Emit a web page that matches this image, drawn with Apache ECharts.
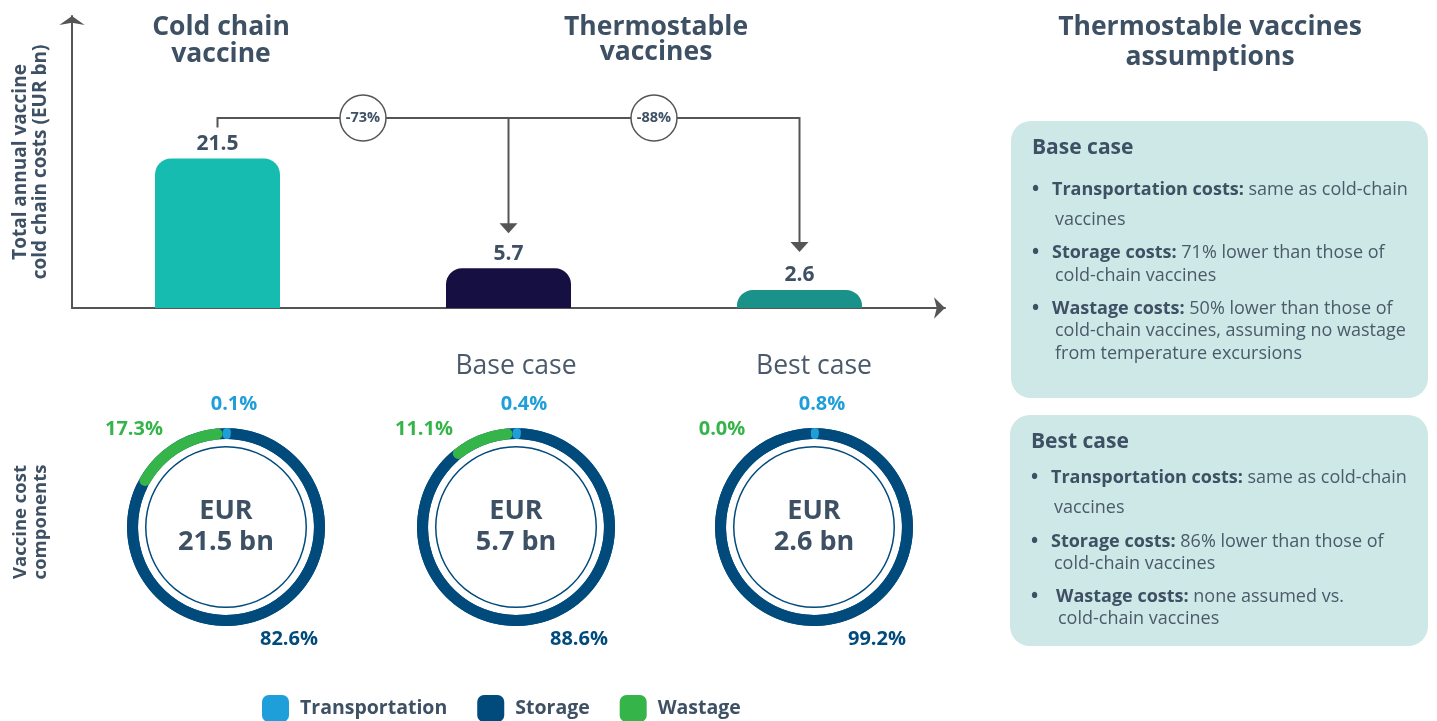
<!DOCTYPE html>
<html>
<head>
<meta charset="utf-8">
<script src="https://cdn.jsdelivr.net/npm/echarts@6/dist/echarts.min.js"></script>
<style>
  html, body { margin: 0; padding: 0; background: #fff; }
  #chart { width: 1437px; height: 721px; }
</style>
</head>
<body>
<div id="chart"></div>
<script>
// data
const barCategories = ['Cold chain vaccine', 'Base case', 'Best case'];
const barValues = [21.5, 5.7, 2.6];
const componentNames = ['Transportation', 'Storage', 'Wastage'];
const coldChainShares = [0.1, 82.6, 17.3];
const baseCaseShares = [0.4, 88.6, 11.1];
const bestCaseShares = [0.8, 99.2, 0.0];
const donutShares = [coldChainShares, baseCaseShares, bestCaseShares];
const donutTitles = ['', 'Base case', 'Best case'];

const textColor = '#3e5064';
const lineColor = '#555555';
const barColors = ['#17bcb0', '#160f41', '#1a9189'];
const compColors = ['#1f9fd9', '#004a7c', '#35b44a'];
const font = '"Open Sans", "Noto Sans", sans-serif';

const donutCenters = [226, 516, 814];
const donutY = 527;

const chart = echarts.init(document.getElementById('chart'));

const series = [{
  type: 'bar',
  data: barValues.map((v, i) => ({ value: v, itemStyle: { color: barColors[i] } })),
  barWidth: 125,
  itemStyle: { borderRadius: [16, 16, 0, 0] },
  label: {
    show: true, position: 'top', distance: 4,
    fontFamily: font, fontSize: 21, fontWeight: 'bold', color: textColor
  },
  silent: true
}];

donutShares.forEach((shares, d) => {
  const cx = donutCenters[d];
  // total ring with centre label
  series.push({
    type: 'pie', silent: true, z: 2,
    center: [cx, donutY], radius: [88, 99],
    data: [{ value: barValues[d], name: 'total' }],
    itemStyle: { color: compColors[1] },
    label: {
      show: true, position: 'center',
      formatter: 'EUR\n{c} bn',
      fontFamily: font, fontSize: 27, fontWeight: 'bold', color: textColor, lineHeight: 31
    },
    labelLine: { show: false }
  });
  // thin inner circle
  series.push({
    type: 'pie', silent: true, z: 2,
    center: [cx, donutY], radius: [79.5, 81],
    data: [{ value: 1, name: 'inner' }],
    itemStyle: { color: compColors[1] },
    label: { show: false }, labelLine: { show: false }
  });
  // components
  series.push({
    type: 'pie', silent: true, z: 3,
    center: [cx, donutY], radius: [88, 99],
    startAngle: 92, clockwise: true, minAngle: 5,
    data: shares.map((v, i) => ({
      name: componentNames[i],
      value: v > 0 ? v : '-',
      itemStyle: { color: compColors[i], borderRadius: i === 1 ? 0 : 6 }
    })),
    label: { show: false }, labelLine: { show: false }
  });
});

const option = {
  animation: false,
  grid: { left: 72, right: 492, top: 16, bottom: 413, outerBoundsMode: 'none', containLabel: false },
  xAxis: {
    type: 'category', data: barCategories,
    axisLine: { show: true, lineStyle: { color: lineColor, width: 2 }, symbol: ['none', 'arrow'], symbolSize: [16, 11] },
    axisTick: { show: false }, axisLabel: { show: false }
  },
  yAxis: {
    type: 'value', min: 0, max: 42,
    name: 'Total annual vaccine\ncold chain costs (EUR bn)',
    nameLocation: 'middle', nameRotate: 90, nameGap: 21,
    nameTextStyle: { fontFamily: font, fontSize: 19, fontWeight: 'bold', color: textColor, lineHeight: 20 },
    axisLine: { show: true, lineStyle: { color: lineColor, width: 2 }, symbol: ['none', 'arrow'], symbolSize: [19, 9] },
    axisTick: { show: false }, axisLabel: { show: false }, splitLine: { show: false }
  },
  legend: {
    data: componentNames, left: 262, top: 695, padding: 0,
    icon: 'roundRect', itemWidth: 27, itemHeight: 27, itemGap: 30,
    selectedMode: false,
    textStyle: { fontFamily: font, fontSize: 19.5, fontWeight: 'bold', color: textColor, padding: [0, 0, 0, 6] }
  },
  series: series
};
chart.setOption(option);

function txt(x, y, text, opt) {
  opt = opt || {};
  return {
    type: 'text', x: x, y: y, rotation: opt.rotation || 0, silent: true,
    style: {
      text: text, fill: opt.color || textColor, fontFamily: font,
      fontSize: opt.size || 16, fontWeight: opt.weight || 'normal',
      align: opt.align || 'left', verticalAlign: 'middle', lineHeight: opt.lineHeight,
      rich: opt.rich
    }
  };
}

const panelSize = 18;
const panelRich = {
  b: { fontFamily: font, fontSize: panelSize, fontWeight: 'bold', fill: textColor, color: textColor },
  r: { fontFamily: font, fontSize: panelSize, fill: '#4a5a6a', color: '#4a5a6a' }
};
function bulletLine(x, y, bold, rest, bx) {
  return [
    txt(bx, y, '•', { size: 19, weight: 'bold', color: textColor }),
    txt(x, y, '{b|' + bold + '}{r| ' + rest + '}', { size: panelSize, rich: panelRich })
  ];
}
function plainLine(x, y, t) {
  return txt(x, y, t, { size: panelSize, color: '#4a5a6a' });
}

const els = [];
// titles
els.push(txt(221, 41, 'Cold chain\nvaccine', { size: 26.5, weight: 'bold', align: 'center', lineHeight: 27 }));
els.push(txt(656, 40, 'Thermostable\nvaccines', { size: 26.5, weight: 'bold', align: 'center', lineHeight: 25 }));
els.push(txt(1210, 42, 'Thermostable vaccines\nassumptions', { size: 26.5, weight: 'bold', align: 'center', lineHeight: 30 }));
els.push(txt(31, 522, 'Vaccine cost\ncomponents', { size: 18.5, weight: 'bold', align: 'center', lineHeight: 20, rotation: Math.PI / 2 }));

// donut titles and percentages
const labelOffsets = [[8, -123], [63, 112], [-92, -98]];
donutShares.forEach((shares, d) => {
  const cx = donutCenters[d];
  if (donutTitles[d]) els.push(txt(cx, 366, donutTitles[d], { size: 26.5, align: 'center', color: '#4a5a6c' }));
  shares.forEach((v, i) => {
    els.push(txt(cx + labelOffsets[i][0], donutY + labelOffsets[i][1], v.toFixed(1) + '%',
      { size: 20, weight: 'bold', align: 'center', color: compColors[i] }));
  });
});

// assumption panels
els.push({ type: 'rect', silent: true, shape: { x: 1011, y: 121, width: 417, height: 277, r: 20 }, style: { fill: '#cde8e6' } });
els.push({ type: 'rect', silent: true, shape: { x: 1010, y: 415, width: 418, height: 231, r: 20 }, style: { fill: '#cde8e6' } });
els.push(txt(1032, 148, 'Base case', { size: 21, weight: 'bold' }));
els.push(...bulletLine(1052, 190, 'Transportation costs:', 'same as cold-chain', 1032));
els.push(plainLine(1055, 220, 'vaccines'));
els.push(...bulletLine(1052, 253, 'Storage costs:', '71% lower than those of', 1032));
els.push(plainLine(1055, 276, 'cold-chain vaccines'));
els.push(...bulletLine(1052, 309, 'Wastage costs:', '50% lower than those of', 1032));
els.push(plainLine(1055, 331, 'cold-chain vaccines, assuming no wastage'));
els.push(plainLine(1055, 354, 'from temperature excursions'));
els.push(txt(1031, 442, 'Best case', { size: 21, weight: 'bold' }));
els.push(...bulletLine(1051, 478, 'Transportation costs:', 'same as cold-chain', 1031));
els.push(plainLine(1054, 508, 'vaccines'));
els.push(...bulletLine(1051, 542, 'Storage costs:', '86% lower than those of', 1031));
els.push(plainLine(1054, 564, 'cold-chain vaccines'));
els.push(...bulletLine(1056, 597, 'Wastage costs:', 'none assumed vs.', 1031));
els.push(plainLine(1058, 619, 'cold-chain vaccines'));

// connectors between bars
const pts = barValues.map((v, i) => chart.convertToPixel({ gridIndex: 0 }, [i, v]));
const lineY = 118;
const lineStyle = { stroke: lineColor, lineWidth: 2, fill: null };
els.push({ type: 'polyline', silent: true, shape: { points: [[pts[0][0], pts[0][1] - 31], [pts[0][0], lineY], [pts[2][0], lineY], [pts[2][0], pts[2][1] - 46]] }, style: lineStyle });
els.push({ type: 'polyline', silent: true, shape: { points: [[pts[1][0], lineY], [pts[1][0], pts[1][1] - 44]] }, style: lineStyle });
[1, 2].forEach(i => {
  const tipY = pts[i][1] - (i === 1 ? 35 : 38);
  els.push({ type: 'polygon', silent: true, shape: { points: [[pts[i][0] - 9, tipY - 10], [pts[i][0] + 9, tipY - 10], [pts[i][0], tipY]] }, style: { fill: lineColor } });
});
[[0, 1], [1, 2]].forEach(([a, b]) => {
  const cx = (pts[a][0] + pts[b][0]) / 2;
  const pct = Math.round((barValues[b] - barValues[0]) / barValues[0] * 100);
  els.push({ type: 'circle', silent: true, z: 10, shape: { cx: cx, cy: lineY, r: 23 }, style: { fill: '#fff', stroke: lineColor, lineWidth: 1.5 } });
  const t = txt(cx, lineY, pct + '%', { size: 14.5, weight: 'bold', align: 'center' });
  t.z = 11;
  els.push(t);
});

chart.setOption({ graphic: { elements: els } });
</script>
</body>
</html>
